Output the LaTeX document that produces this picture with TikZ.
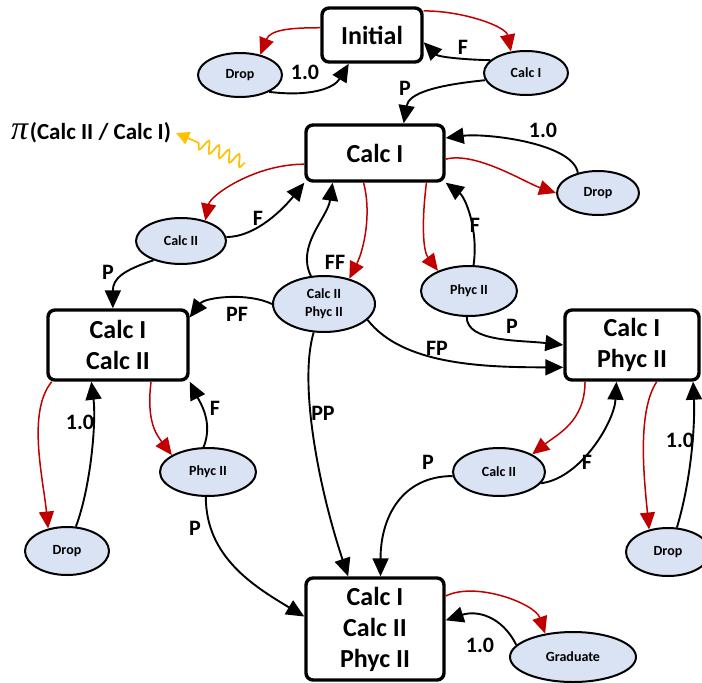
\documentclass[tikz,border=0pt]{standalone}
\usepackage{fontspec}
\setmainfont{Carlito}
\newfontfamily\greekserif{Liberation Serif}
\usetikzlibrary{arrows.meta,shapes.geometric,decorations.pathmorphing}
\definecolor{tred}{HTML}{C00000}
\definecolor{efill}{HTML}{DAE3F3}
\definecolor{tgold}{HTML}{FFC000}
\begin{document}
\begin{tikzpicture}[x=1pt,y=-1pt,
  state/.style={draw, line width=3.4pt, rounded corners=7pt, fill=white, align=center,
    inner sep=0pt, font=\fontsize{26}{31}\selectfont\bfseries},
  outcome/.style={ellipse, draw, line width=2pt, fill=efill, inner sep=0pt, align=center,
    font=\fontsize{14}{18}\selectfont\bfseries},
  pass/.style={line width=1.9pt, -{Triangle[length=18pt 0 0,width=16pt 0 0]}},
  take/.style={tred, line width=1.5pt, -{Triangle[length=17pt 0 0,width=15pt 0 0]}},
  lbl/.style={font=\fontsize{22}{24}\selectfont\bfseries, inner sep=0pt}]
\useasboundingbox (0,0) rectangle (702,683);

% course states
\node[state, minimum width=100, minimum height=54] (init) at (372,35) {Initial};
\node[state, minimum width=138, minimum height=56] (c1) at (375,153) {Calc I};
\node[state, minimum width=140, minimum height=70] (c12) at (118,345) {Calc I\\Calc II};
\node[state, minimum width=134, minimum height=70] (c1p) at (632,345) {Calc I\\Phyc II};
\node[state, minimum width=138, minimum height=102] (fin) at (375,629) {Calc I\\Calc II\\Phyc II};

% outcomes
\node[outcome, minimum width=84, minimum height=44] (dropA) at (240,75) {Drop};
\node[outcome, minimum width=84, minimum height=44] (takeA) at (526,73) {Calc I};
\node[outcome, minimum width=82, minimum height=44] (dropB) at (598,193) {Drop};
\node[outcome, minimum width=90, minimum height=46] (takeB) at (181,241) {Calc II};
\node[outcome, minimum width=102, minimum height=56] (takeC) at (324,304) {Calc II\\Phyc II};
\node[outcome, minimum width=96, minimum height=50] (takeD) at (469,291) {Phyc II};
\node[outcome, minimum width=96, minimum height=48] (takeE) at (208,472) {Phyc II};
\node[outcome, minimum width=92, minimum height=48] (takeF) at (499,472) {Calc II};
\node[outcome, minimum width=84, minimum height=48] (dropC) at (67,551) {Drop};
\node[outcome, minimum width=84, minimum height=48] (dropD) at (668,552) {Drop};
\node[outcome, minimum width=126, minimum height=50] (grad) at (573,657) {Graduate};

% Initial
\draw[take] (init.172) .. controls +(-30,0) and +(10,-25) .. (dropA.45);
\draw[pass] (dropA.-30) .. controls +(40,5) and +(-15,25) .. (init.231);
\draw[take] (init.25) .. controls +(40,0) and +(-5,-25) .. (takeA.125);
\draw[pass] (takeA.160) .. controls +(-20,0) and +(15,15) .. (init.-8);
\draw[pass] (takeA.190) .. controls +(-50,5) and +(5,-30) .. (c1.46);

% Calc I
\draw[take] (c1.-5) .. controls +(30,-8) and +(-30,-10) .. (dropB.180);
\draw[pass] (dropB.135) .. controls +(-5,-30) and +(40,-5) .. (c1.12);
\draw[take] (c1.189) .. controls +(-50,0) and +(5,-25) .. (takeB.40);
\draw[pass] (takeB.5) .. controls +(30,0) and +(-20,25) .. (c1.south west);
\draw[pass] (takeB.-145) .. controls +(-30,10) and +(0,-30) .. (c12.98);
\draw[pass] (takeC.115) .. controls +(-15,-30) and +(-5,35) .. (c1.215);
\draw[take] (c1.249) .. controls +(8,30) and +(15,-30) .. (takeC.45);
\draw[take] (c1.-30) .. controls +(-5,40) and +(-15,-20) .. (takeD.147);
\draw[pass] (takeD.80) .. controls +(5,-35) and +(20,15) .. (c1.south east);
\draw[pass] (takeD.-95) .. controls +(0,25) and +(-45,-5) .. (c1p.west);
\draw[pass] (takeC.west) .. controls +(-25,-12) and +(15,-20) .. (c12.21);
\draw[pass] (takeC.-20) .. controls +(35,45) and +(-80,0) .. (c1p.198);
\draw[pass] (takeC.-110) .. controls +(-15,50) and +(-30,-90) .. (fin.117);

% Calc I + Calc II
\draw[take] (c12.209) .. controls +(-25,30) and +(-5,-50) .. (dropC.130);
\draw[pass] (dropC.70) .. controls +(15,-40) and +(5,40) .. (c12.234);
\draw[take] (c12.-48) .. controls +(-5,40) and +(-15,-20) .. (takeE.155);
\draw[pass] (takeE.100) .. controls +(10,-25) and +(10,20) .. (c12.south east);
\draw[pass] (takeE.-95) .. controls +(0,60) and +(-50,-30) .. (fin.170);

% Calc I + Phyc II
\draw[take] (c1p.218) .. controls +(0,40) and +(25,-20) .. (takeF.28);
\draw[pass] (takeF.-15) .. controls +(40,-5) and +(-2,40) .. (c1p.247);
\draw[pass] (takeF.185) .. controls +(-50,0) and +(0,-60) .. (fin.84);
\draw[take] (c1p.-56) .. controls +(-20,30) and +(-5,-50) .. (dropD.130);
\draw[pass] (dropD.70) .. controls +(15,-50) and +(2,40) .. (c1p.-31);

% all three
\draw[take] (fin.25) .. controls +(30,-15) and +(-10,-30) .. (grad.140);
\draw[pass] (grad.168) .. controls +(-15,-30) and +(30,-10) .. (fin.7);

% transition labels
\node[lbl] (l1) at (305,72) {1.0};
\node[lbl] (l2) at (463,47) {F};
\node[lbl] (l3) at (405,88) {P};
\node[lbl] (l4) at (543,130) {1.0};
\node[lbl] (l5) at (258,218) {F};
\node[lbl] (l6) at (108,272) {P};
\node[lbl] (l7) at (335,262) {FF};
\node[lbl] (l8) at (475,225) {F};
\node[lbl] (l9) at (512,326) {P};
\node[lbl] (l10) at (237,314) {PF};
\node[lbl] (l11) at (437,348) {FP};
\node[lbl] (l12) at (323,413) {PP};
\node[lbl] (l13) at (80,422) {1.0};
\node[lbl] (l14) at (215,408) {F};
\node[lbl] (l15) at (195,528) {P};
\node[lbl] (l16) at (587,462) {F};
\node[lbl] (l17) at (428,462) {P};
\node[lbl] (l18) at (680,440) {1.0};
\node[lbl] (l19) at (480,645) {1.0};

% policy annotation
\node[inner sep=0pt, anchor=west] (pol) at (11,133)
  {{\greekserif\itshape\fontsize{34}{34}\selectfont π}\,{\fontsize{23}{26}\selectfont\bfseries(Calc II / Calc I)}};
\coordinate (wv) at (245,163);
\draw[tgold, line width=1.7pt, -{Triangle[length=13pt 0 0,width=13pt 0 0]},
  decorate, decoration={snake, amplitude=6pt, segment length=11pt, post length=20pt}]
  (wv) -- ([xshift=5pt]pol.east);
\end{tikzpicture}
\end{document}
